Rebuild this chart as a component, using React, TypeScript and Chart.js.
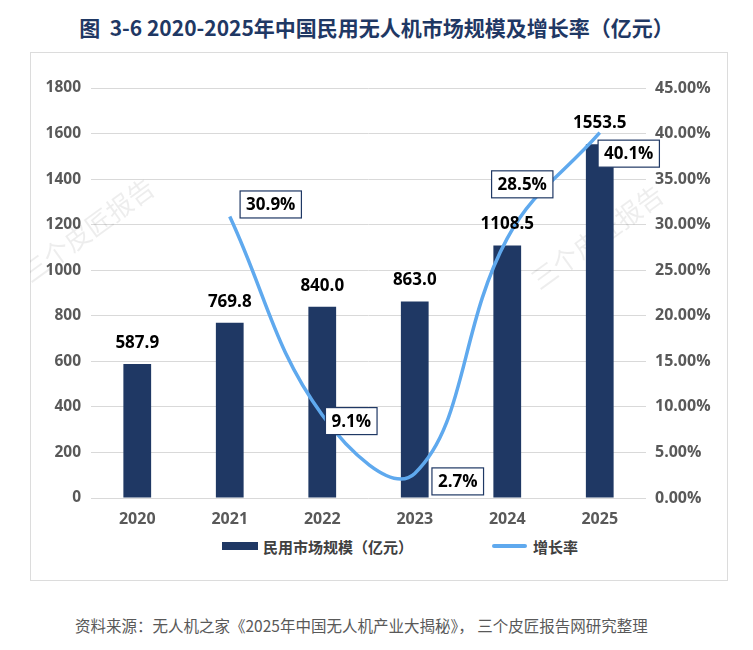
import React, { useEffect, useRef } from "react";
import { Chart, registerables } from "chart.js";

Chart.register(...registerables);

// ---- data ----
const years = ["2020", "2021", "2022", "2023", "2024", "2025"];
const marketSize = [587.9, 769.8, 840.0, 863.0, 1108.5, 1553.5];
const growthRate: (number | null)[] = [null, 30.9, 9.1, 2.7, 28.5, 40.1];
const leftAxis = { min: 0, max: 1800, step: 200 };
const rightAxis = { min: 0, max: 45, step: 5 };
const barSeriesName = "民用市场规模（亿元）";
const lineSeriesName = "增长率";
const titleText = "图  3-6 2020-2025年中国民用无人机市场规模及增长率（亿元）";
const sourceText = "资料来源：无人机之家《2025年中国无人机产业大揭秘》， 三个皮匠报告网研究整理";
const watermarkText = "三个皮匠报告";

// ---- styles ----
const NAVY = "#1F3864";
const LIGHT_BLUE = "#5FA9EE";
const TICK_GREY = "#595959";
const NUM_FONT = '"Open Sans", "Noto Sans CJK SC", sans-serif';
const CJK_FONT = '"Noto Sans CJK SC", "Open Sans", sans-serif';
// label box offsets (px) relative to each growth point
const rateLabelOffsets: ([number, number] | null)[] = [null, [41, -12], [29, 6], [43, 8], [15, -54], [29, 21]];

const watermarkPlugin = {
  id: "watermark",
  beforeDatasetsDraw(chart: any) {
    const ctx = chart.ctx;
    ctx.save();
    ctx.font = `400 26px ${CJK_FONT}`;
    ctx.fillStyle = "rgba(0,0,0,0.07)";
    ctx.textAlign = "center";
    ctx.textBaseline = "middle";
    const spots = [
      [58, 178],
      [567, 185],
    ];
    spots.forEach(([x, y]) => {
      ctx.save();
      ctx.translate(x, y);
      ctx.rotate((-36 * Math.PI) / 180);
      ctx.fillText(watermarkText, 0, 0);
      ctx.restore();
    });
    ctx.restore();
  },
};

const valueLabelPlugin = {
  id: "valueLabels",
  afterDatasetsDraw(chart: any) {
    const ctx = chart.ctx;
    ctx.save();
    ctx.font = `700 17px ${NUM_FONT}`;
    ctx.textAlign = "center";
    ctx.textBaseline = "middle";
    const barMeta = chart.getDatasetMeta(0);
    barMeta.data.forEach((el: any, i: number) => {
      ctx.fillStyle = "#000";
      ctx.fillText(marketSize[i].toFixed(1), el.x, el.y - 21);
    });
    const lineMeta = chart.getDatasetMeta(1);
    lineMeta.data.forEach((el: any, i: number) => {
      const v = growthRate[i];
      const off = rateLabelOffsets[i];
      if (v == null || !off) return;
      const text = v.toFixed(1) + "%";
      const w = ctx.measureText(text).width + 12;
      const h = 27;
      const cx = el.x + off[0];
      const cy = el.y + off[1];
      ctx.fillStyle = "#fff";
      ctx.fillRect(cx - w / 2, cy - h / 2, w, h);
      ctx.strokeStyle = NAVY;
      ctx.lineWidth = 1.2;
      ctx.strokeRect(cx - w / 2, cy - h / 2, w, h);
      ctx.fillStyle = "#000";
      ctx.fillText(text, cx, cy + 1);
    });
    ctx.restore();
  },
};

export default function App() {
  const canvasRef = useRef<HTMLCanvasElement | null>(null);

  useEffect(() => {
    if (!canvasRef.current) return;
    const chart = new Chart(canvasRef.current, {
      data: {
        labels: years,
        datasets: [
          {
            type: "bar",
            label: barSeriesName,
            data: marketSize,
            backgroundColor: NAVY,
            yAxisID: "y",
            barPercentage: 0.3,
            categoryPercentage: 1,
            order: 2,
          },
          {
            type: "line",
            label: lineSeriesName,
            data: growthRate as any,
            borderColor: LIGHT_BLUE,
            backgroundColor: LIGHT_BLUE,
            borderWidth: 3.5,
            pointRadius: 0,
            tension: 0.4,
            yAxisID: "y1",
            order: 1,
          },
        ],
      },
      options: {
        animation: false,
        responsive: true,
        maintainAspectRatio: false,
        layout: { padding: { top: 36, left: 0, right: 0, bottom: 0 } },
        plugins: {
          legend: { display: false },
          tooltip: { enabled: false },
        },
        scales: {
          x: {
            grid: { display: false, drawTicks: false },
            border: { display: false },
            ticks: {
              color: TICK_GREY,
              font: { family: NUM_FONT, size: 16, weight: "bold" },
              padding: 12,
            },
            afterFit: (s: any) => {
              s.height = 32;
            },
          },
          y: {
            position: "left",
            min: leftAxis.min,
            max: leftAxis.max,
            ticks: {
              stepSize: leftAxis.step,
              color: TICK_GREY,
              font: { family: NUM_FONT, size: 15.5, weight: "bold" },
              padding: 10,
              callback: (v: any) => String(v),
            },
            grid: { color: "#D9D9D9", lineWidth: 1, drawTicks: false },
            border: { display: false },
            afterFit: (s: any) => {
              s.width = 61;
            },
          },
          y1: {
            position: "right",
            min: rightAxis.min,
            max: rightAxis.max,
            ticks: {
              stepSize: rightAxis.step,
              color: TICK_GREY,
              font: { family: NUM_FONT, size: 16, weight: "bold" },
              padding: 9,
              callback: (v: any) => Number(v).toFixed(2) + "%",
            },
            grid: { display: false, drawTicks: false },
            border: { display: false },
            afterFit: (s: any) => {
              s.width = 82;
            },
          },
        },
      } as any,
      plugins: [watermarkPlugin, valueLabelPlugin],
    });
    return () => chart.destroy();
  }, []);

  return (
    <div style={{ position: "absolute", left: 0, top: 0, width: 753, height: 650, background: "#fff" }}>
      <div
        style={{
          position: "absolute",
          left: 0,
          top: 12,
          width: 753,
          textAlign: "center",
          fontFamily: CJK_FONT,
          fontWeight: 700,
          fontSize: 21,
          color: NAVY,
          lineHeight: "30px",
          whiteSpace: "pre",
        }}
      >
        {titleText}
      </div>
      <div
        style={{
          position: "absolute",
          left: 30,
          top: 52,
          width: 698,
          height: 529,
          border: "1.5px solid #DCDCDC",
          boxSizing: "border-box",
        }}
      />
      <div style={{ position: "absolute", left: 30, top: 52, width: 698, height: 478 }}>
        <canvas ref={canvasRef} />
      </div>
      <div
        style={{
          position: "absolute",
          left: 222,
          top: 533,
          height: 26,
          display: "flex",
          alignItems: "center",
          fontFamily: CJK_FONT,
          fontSize: 15,
          fontWeight: 600,
          color: "#404040",
          whiteSpace: "nowrap",
        }}
      >
        <span style={{ display: "inline-block", width: 36, height: 8, background: NAVY, marginRight: 5 }} />
        <span>{barSeriesName}</span>
        <span style={{ display: "inline-block", width: 35, height: 4, borderRadius: 2, background: LIGHT_BLUE, marginLeft: 79, marginRight: 6 }} />
        <span>{lineSeriesName}</span>
      </div>
      <div
        style={{
          position: "absolute",
          left: 75,
          top: 614,
          fontFamily: CJK_FONT,
          fontSize: 15.5,
          color: TICK_GREY,
          whiteSpace: "pre",
          lineHeight: "22px",
        }}
      >
        {sourceText}
      </div>
    </div>
  );
}
